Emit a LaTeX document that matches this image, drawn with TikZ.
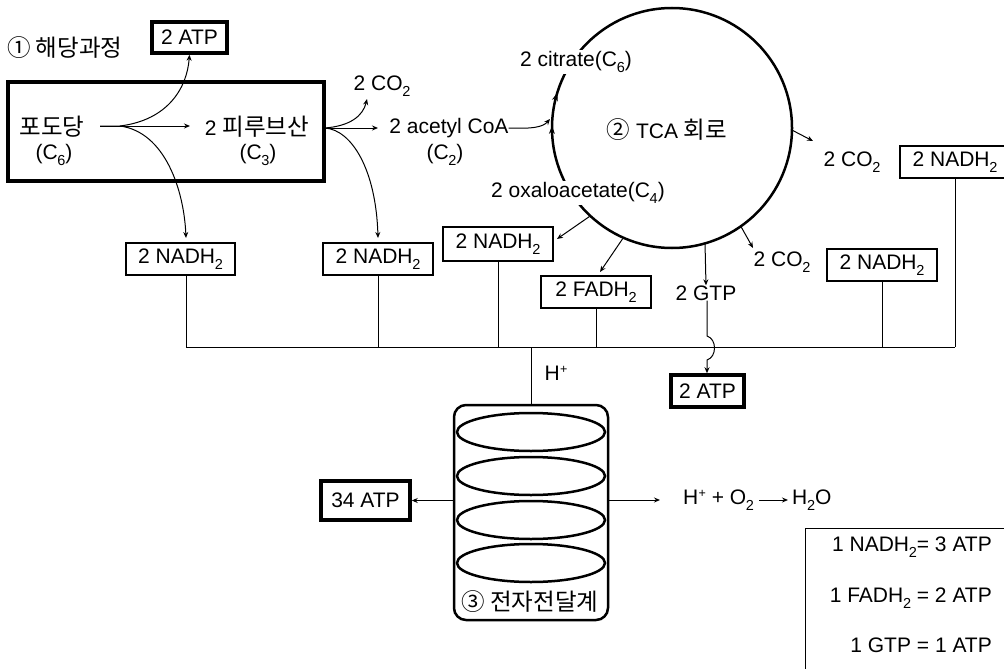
\documentclass[tikz,border=0pt]{standalone}
\usepackage{fontspec}
\setmainfont{Liberation Sans}
\newfontfamily\kr[Scale=1.12]{Noto Sans CJK KR}
\usetikzlibrary{arrows.meta}
\newcommand\sbs[1]{\kern-0.3pt\raisebox{-5.5pt}{\fontsize{14.5}{14.5}\selectfont #1}}
\newcommand\sps[1]{\kern0.3pt\raisebox{7pt}{\fontsize{12.5}{12.5}\selectfont #1}}
\begin{document}
\begin{tikzpicture}[x=1pt,y=-1pt,
  lbl/.style={inner sep=0pt, font=\fontsize{21}{25}\selectfont},
  bx/.style={lbl, draw, line width=2.5pt, minimum height=32pt},
  tbx/.style={bx, line width=3.5pt},
  ln/.style={line width=1pt},
  arr/.style={ln, -{Stealth[length=6pt,width=5pt]}},
  thk/.style={line width=2.5pt}
]
\useasboundingbox (0,0) rectangle (1004,669);

% ---------- glycolysis ----------
\node[lbl, anchor=west] (t1) at (7,48) {\kr ① 해당과정};
\node[tbx, minimum width=75pt, minimum height=31pt] (atpA) at (189.5,37.5) {2 ATP};
\node[draw, line width=3.5pt, minimum width=316pt, minimum height=99pt, inner sep=0pt] (gbox) at (166,131.5) {};
\node[lbl] (glu) at (52,127) {\kr 포도당};
\node[lbl] (gluc) at (54,155) {(C\sbs{6})};
\node[lbl] (pyr) at (257,127) {2 {\kr 피루브산}};
\node[lbl] (pyrc) at (258,155) {(C\sbs{3})};

\node[bx, minimum width=109pt] (nadh1) at (180.5,259) {2 NADH\sbs{2}};
\node[bx, minimum width=110pt] (nadh2) at (378,259) {2 NADH\sbs{2}};

\coordinate (gs) at (100,126);
\coordinate (gb) at (120,126);
\coordinate (pyin) at (190,126);
\coordinate (n1in) at (186,238);
\draw[arr] (gs) -- (pyin);
\draw[arr] (gs) -- (gb) .. controls (168,120) and (187,88) .. (atpA.south);
\draw[arr] (gb) .. controls (165,132) and (184,190) .. (n1in);

% ---------- pyruvate -> acetyl CoA ----------
\node[lbl] (co2a) at (382,86) {2 CO\sbs{2}};
\node[lbl] (acoa) at (449,128) {2 acetyl CoA};
\node[lbl] (acoac) at (445,155) {(C\sbs{2})};
\coordinate (pb) at (325,128);
\coordinate (co2in) at (367,99);
\coordinate (acin) at (378,128);
\coordinate (n2in) at (378,238);
\draw[arr] (pb) .. controls (350,126) and (363,116) .. (co2in);
\draw[arr] (pb) -- (acin);
\draw[arr] (pb) .. controls (352,130) and (376,170) .. (n2in);

% ---------- TCA cycle ----------
\coordinate (cen) at (672,128);
\draw[thk] (cen) circle[radius=120];
\draw[ln, -{Stealth[length=8pt,width=6pt]}] ([shift={(172:120)}]cen) arc[start angle=172, end angle=181, radius=120];
\draw[ln, -{Stealth[length=8pt,width=6pt]}] ([shift={(188:120)}]cen) arc[start angle=188, end angle=197, radius=120];
\node[lbl, fill=white, inner sep=1.5pt] (cit) at (576,62) {2 citrate(C\sbs{6})};
\node[lbl, fill=white, inner sep=1.5pt] (oxa) at (578,193) {2 oxaloacetate(C\sbs{4})};
\node[lbl] (tca) at (667,130) {{\kr ②} TCA {\kr 회로}};
\coordinate (accirc) at (550,119);
\draw[arr] (acoa.east) .. controls (533,129) and (543,127) .. (accirc);

\node[lbl] (co2c) at (852,162) {2 CO\sbs{2}};
\node[lbl] (co2b) at (782,262) {2 CO\sbs{2}};
\node[lbl] (gtp) at (706,293) {2 GTP};
\node[bx, minimum width=110pt, minimum height=34pt] (nadh3) at (498,244) {2 NADH\sbs{2}};
\node[bx, minimum width=110pt] (fadh) at (596,292) {2 FADH\sbs{2}};
\node[bx, minimum width=110pt] (nadh4) at (882,265) {2 NADH\sbs{2}};
\node[bx, minimum width=110pt] (nadh5) at (955,162) {2 NADH\sbs{2}};

\coordinate (c1) at ([shift={(1:120)}]cen);
\coordinate (c1t) at (813,141);
\coordinate (c2) at ([shift={(55:120)}]cen);
\coordinate (c2t) at (753,248);
\coordinate (c3) at (705,243);
\coordinate (c4) at ([shift={(133:121)}]cen);
\coordinate (c4t) at (557,239);
\coordinate (c5) at ([shift={(114:121)}]cen);
\coordinate (c5t) at (600,272);
\draw[arr] (c1) -- (c1t);
\draw[arr] (c2) -- (c2t);
\draw[arr] (c3) -- (gtp.north);
\draw[arr] (c4) -- (c4t);
\draw[arr] (c5) -- (c5t);

\node[tbx, minimum width=73pt, minimum height=32pt] (atpB) at (707.5,391) {2 ATP};
\coordinate (hopA) at (707,336);
\coordinate (hopB) at (707,360);
\draw[arr] (gtp.south -| hopA) -- (hopA) .. controls (717,339) and (717,357) .. (hopB) -- (atpB.north -| hopB);

% ---------- collecting line ----------
\coordinate (busL) at (186,347);
\coordinate (busR) at (955,347);
\draw[ln] (busL) -- (busR);
\draw[ln] (nadh1.south -| busL) -- (busL);
\draw[ln] (nadh2.south) -- (nadh2.south |- busL);
\draw[ln] (nadh3.south) -- (nadh3.south |- busL);
\draw[ln] (fadh.south) -- (fadh.south |- busL);
\draw[ln] (nadh4.south) -- (nadh4.south |- busL);
\draw[ln] (nadh5.south) -- (busR);

% ---------- electron transport ----------
\node[draw, line width=2.5pt, rounded corners=12pt, minimum width=154pt, minimum height=215pt, inner sep=0pt] (etc) at (531,512.5) {};
\draw[ln] (etc.north |- busL) -- (etc.north);
\node[lbl] (hp) at (556,373) {H\sps{+}};
\foreach \yy in {432,476,520,563} \draw[thk] (531,\yy) ellipse[x radius=74, y radius=19];
\node[lbl] (etcl) at (530,602) {\kr ③ 전자전달계};

\node[tbx, minimum width=89pt, minimum height=39pt] (atp34) at (365.5,500.5) {34 ATP};
\draw[arr] (atp34.east -| etc.west) -- (atp34.east);

\coordinate (rt) at (660,500);
\node[lbl, anchor=west] (eq) at (683,500) {H\sps{+} + O\sbs{2}};
\node[lbl, anchor=west] (h2o) at (792,500) {H\sbs{2}O};
\draw[arr] (rt -| etc.east) -- (rt);
\draw[arr, shorten <=5pt, shorten >=4pt] (eq.east) -- (h2o.west);

% ---------- legend ----------
\draw[ln] (805,669) -- (805,528) -- (1004,528);
\node[lbl, anchor=east] (l1) at (992,547) {1 NADH\sbs{2}= 3 ATP};
\node[lbl, anchor=east] (l2) at (992,598) {1 FADH\sbs{2} = 2 ATP};
\node[lbl, anchor=east] (l3) at (992,645) {1 GTP = 1 ATP};
\end{tikzpicture}
\end{document}
